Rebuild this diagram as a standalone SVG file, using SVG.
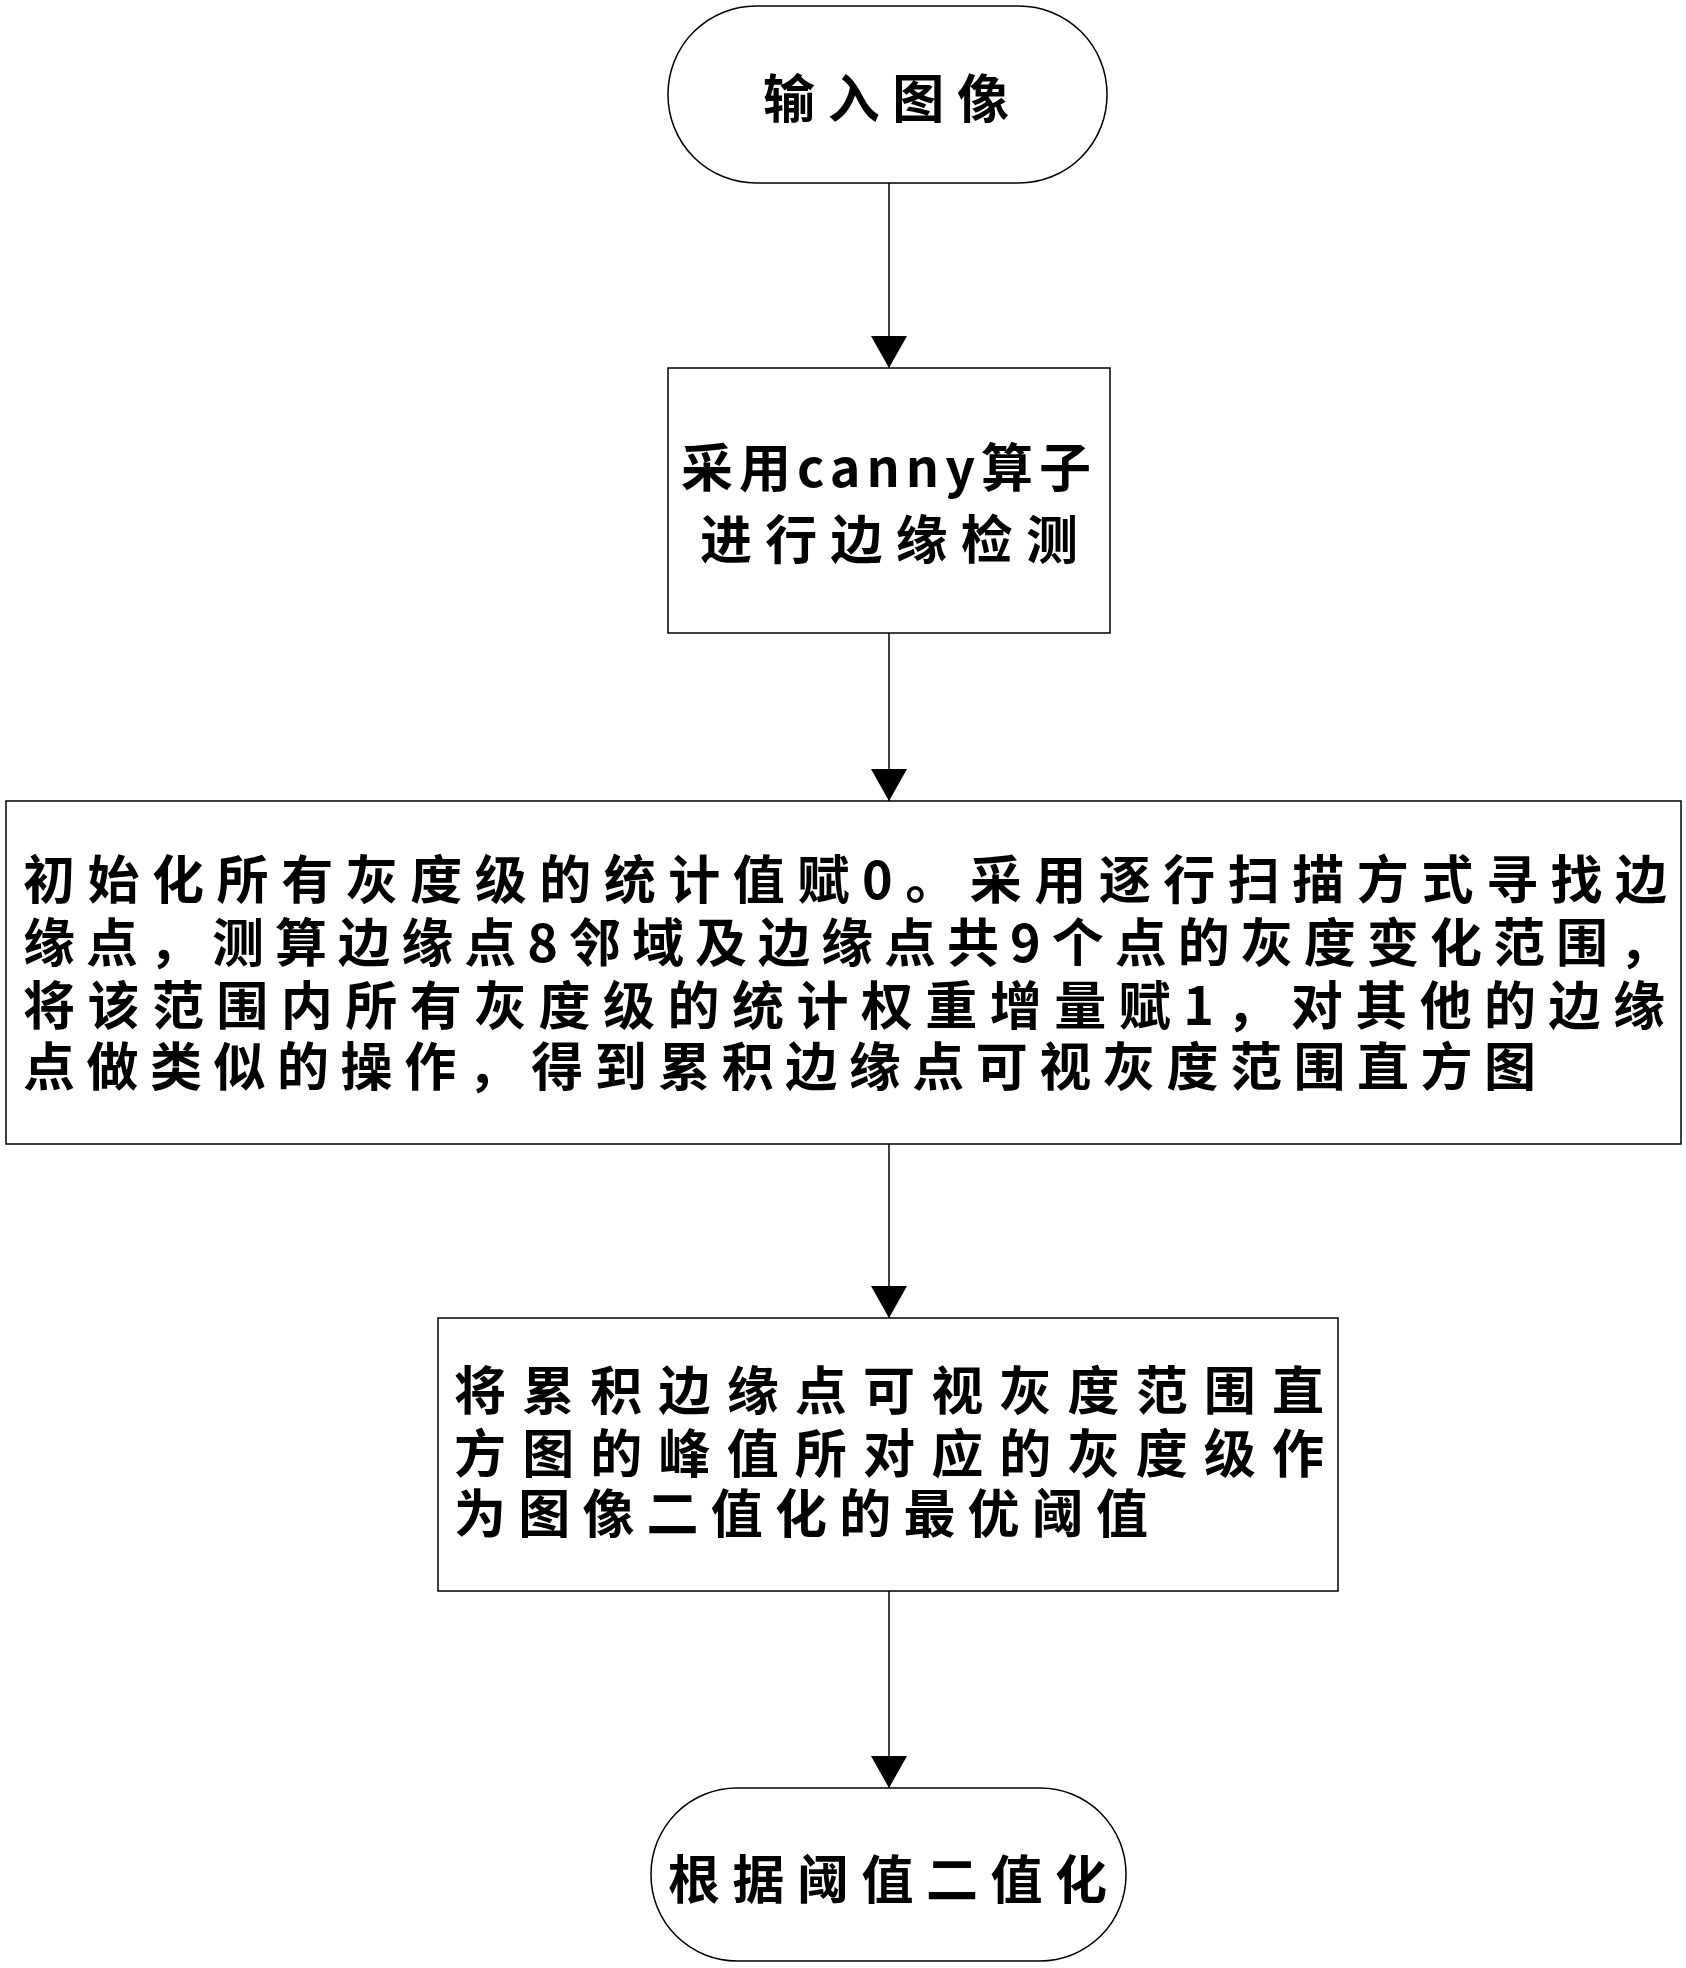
<svg xmlns="http://www.w3.org/2000/svg" width="1686" height="1968" viewBox="0 0 1686 1968">
<style>
.s{fill:#fff;stroke:#000;stroke-width:1.5}
.t{font-family:"Noto Sans CJK SC","Noto Sans",sans-serif;font-weight:bold;font-size:52px;fill:#000;dominant-baseline:central}
.c{stroke:#000;stroke-width:1.5;fill:none;marker-end:url(#a)}
</style>
<defs><marker id="a" markerWidth="32" markerHeight="36" refX="32" refY="18" orient="auto" markerUnits="userSpaceOnUse"><path d="M0,0 L32,18 L0,36 Z" fill="#000"/></marker></defs>
<rect width="1686" height="1968" fill="#fff"/>
<g id="connectors">
<line class="c" x1="889" y1="183" x2="889" y2="368"/>
<line class="c" x1="889" y1="633" x2="889" y2="801"/>
<line class="c" x1="889" y1="1144" x2="889" y2="1318"/>
<line class="c" x1="889" y1="1591" x2="889" y2="1788"/>
</g>
<g id="start"><rect class="s" x="668" y="6" width="439" height="177" rx="88"/>
<text class="t" x="763" y="95" textLength="246">输入图像</text></g>
<g id="canny"><rect class="s" x="668" y="368" width="442" height="265"/>
<text class="t" x="681" y="464" textLength="410">采用canny算子</text>
<text class="t" x="700" y="536" textLength="378">进行边缘检测</text></g>
<g id="hist"><rect class="s" x="6" y="801" width="1675" height="343"/>
<text class="t" x="23" y="876" textLength="1644">初始化所有灰度级的统计值赋0。采用逐行扫描方式寻找边</text>
<text class="t" x="23" y="939" textLength="1648">缘点，测算边缘点8邻域及边缘点共9个点的灰度变化范围，</text>
<text class="t" x="23" y="1002" textLength="1642">将该范围内所有灰度级的统计权重增量赋1，对其他的边缘</text>
<text class="t" x="23" y="1063" textLength="1513">点做类似的操作，得到累积边缘点可视灰度范围直方图</text></g>
<g id="thresh"><rect class="s" x="438" y="1318" width="900" height="273"/>
<text class="t" x="454" y="1387" textLength="870">将累积边缘点可视灰度范围直</text>
<text class="t" x="454" y="1450" textLength="870">方图的峰值所对应的灰度级作</text>
<text class="t" x="454" y="1510" textLength="694">为图像二值化的最优阈值</text></g>
<g id="end"><rect class="s" x="651" y="1788" width="475" height="173" rx="86"/>
<text class="t" x="668" y="1876" textLength="439">根据阈值二值化</text></g>
</svg>
